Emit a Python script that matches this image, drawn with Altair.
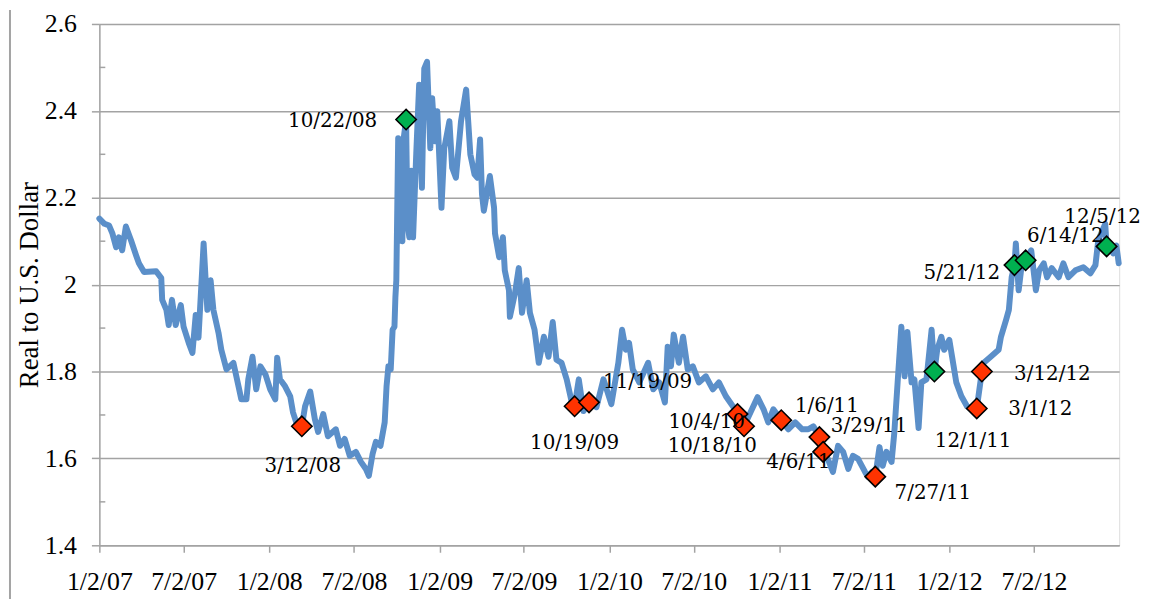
import altair as alt
import pandas as pd

# ---------------- data ----------------
line_dates = [
    "2007-01-02", "2007-01-13", "2007-01-23", "2007-01-30", "2007-02-07", "2007-02-13",
    "2007-02-20", "2007-02-28", "2007-03-11", "2007-03-22", "2007-03-28", "2007-04-08",
    "2007-05-04", "2007-05-15", "2007-05-17", "2007-05-26", "2007-05-31", "2007-06-07",
    "2007-06-15", "2007-06-26", "2007-07-02", "2007-07-13", "2007-07-21", "2007-07-28",
    "2007-08-03", "2007-08-14", "2007-08-18", "2007-08-22", "2007-08-29", "2007-09-04",
    "2007-09-15", "2007-09-21", "2007-10-02", "2007-10-17", "2007-10-28", "2007-11-03",
    "2007-11-14", "2007-11-18", "2007-11-27", "2007-12-05", "2007-12-14", "2007-12-25",
    "2008-01-04", "2008-01-15", "2008-01-19", "2008-01-25", "2008-02-05", "2008-02-16",
    "2008-02-22", "2008-02-29", "2008-03-12", "2008-03-19", "2008-03-30", "2008-04-09",
    "2008-04-16", "2008-04-27", "2008-05-07", "2008-05-24", "2008-06-02", "2008-06-12",
    "2008-06-23", "2008-07-06", "2008-07-17", "2008-07-28", "2008-08-03", "2008-08-11",
    "2008-08-18", "2008-08-28", "2008-09-06", "2008-09-10", "2008-09-14", "2008-09-19",
    "2008-09-23", "2008-09-27", "2008-09-29", "2008-10-01", "2008-10-05", "2008-10-09",
    "2008-10-14", "2008-10-16", "2008-10-22", "2008-10-25", "2008-10-29", "2008-11-02",
    "2008-11-06", "2008-11-13", "2008-11-19", "2008-11-25", "2008-11-30", "2008-12-06",
    "2008-12-13", "2008-12-17", "2008-12-23", "2008-12-28", "2009-01-06", "2009-01-12",
    "2009-01-23", "2009-01-29", "2009-02-06", "2009-02-17", "2009-02-28", "2009-03-09",
    "2009-03-18", "2009-03-24", "2009-03-30", "2009-04-03", "2009-04-07", "2009-04-20",
    "2009-04-29", "2009-05-01", "2009-05-10", "2009-05-18", "2009-05-22", "2009-05-31",
    "2009-06-02", "2009-06-13", "2009-06-21", "2009-06-28", "2009-07-08", "2009-07-15",
    "2009-07-25", "2009-08-03", "2009-08-14", "2009-08-24", "2009-09-02", "2009-09-10",
    "2009-09-21", "2009-10-02", "2009-10-13", "2009-10-19", "2009-10-28", "2009-11-07",
    "2009-11-19", "2009-12-05", "2009-12-20", "2010-01-06", "2010-01-21", "2010-01-29",
    "2010-02-06", "2010-02-13", "2010-02-21", "2010-03-07", "2010-03-26", "2010-04-06",
    "2010-04-19", "2010-05-01", "2010-05-07", "2010-05-14", "2010-05-20", "2010-05-31",
    "2010-06-09", "2010-06-19", "2010-06-30", "2010-07-13", "2010-07-28", "2010-08-12",
    "2010-08-25", "2010-09-09", "2010-09-24", "2010-10-04", "2010-10-11", "2010-10-18",
    "2010-11-01", "2010-11-16", "2010-11-29", "2010-12-09", "2010-12-20", "2011-01-06",
    "2011-01-21", "2011-02-05", "2011-02-20", "2011-03-05", "2011-03-16", "2011-03-29",
    "2011-04-06", "2011-04-16", "2011-04-27", "2011-05-08", "2011-05-19", "2011-05-30",
    "2011-06-09", "2011-06-20", "2011-07-05", "2011-07-11", "2011-07-20", "2011-07-27",
    "2011-08-05", "2011-08-12", "2011-08-20", "2011-08-31", "2011-09-06", "2011-09-13",
    "2011-09-21", "2011-09-28", "2011-10-04", "2011-10-13", "2011-10-19", "2011-10-28",
    "2011-11-03", "2011-11-14", "2011-11-25", "2011-12-01", "2011-12-07", "2011-12-16",
    "2011-12-22", "2012-01-02", "2012-01-08", "2012-01-17", "2012-01-28", "2012-02-09",
    "2012-02-20", "2012-03-01", "2012-03-12", "2012-03-16", "2012-03-31", "2012-04-17",
    "2012-04-22", "2012-05-03", "2012-05-09", "2012-05-15", "2012-05-21", "2012-05-24",
    "2012-05-30", "2012-06-06", "2012-06-14", "2012-06-26", "2012-07-06", "2012-07-13",
    "2012-07-23", "2012-07-30", "2012-08-09", "2012-08-24", "2012-09-03", "2012-09-14",
    "2012-09-29", "2012-10-16", "2012-10-31", "2012-11-11", "2012-11-17", "2012-12-02",
    "2012-12-05", "2012-12-13", "2012-12-19", "2012-12-26", "2012-12-31",
]
line_values = [
    2.152, 2.140, 2.136, 2.118, 2.086, 2.109,
    2.079, 2.134, 2.102, 2.067, 2.049, 2.029,
    2.031, 2.015, 1.965, 1.942, 1.907, 1.965,
    1.907, 1.953, 1.903, 1.866, 1.843, 1.930,
    1.878, 2.095, 2.017, 1.942, 2.010, 1.942,
    1.889, 1.850, 1.805, 1.820, 1.766, 1.736,
    1.736, 1.782, 1.834, 1.759, 1.812, 1.793,
    1.759, 1.736, 1.832, 1.782, 1.766, 1.743,
    1.706, 1.683, 1.674, 1.720, 1.754, 1.690,
    1.661, 1.702, 1.651, 1.667, 1.629, 1.645,
    1.606, 1.615, 1.592, 1.575, 1.560, 1.610,
    1.638, 1.629, 1.683, 1.766, 1.812, 1.805,
    1.896, 1.903, 1.971, 2.010, 2.337, 2.102,
    2.100, 2.330, 2.380, 2.140, 2.109, 2.262,
    2.109, 2.307, 2.460, 2.223, 2.497, 2.513,
    2.314, 2.429, 2.330, 2.399, 2.177, 2.314,
    2.376, 2.269, 2.246, 2.376, 2.449, 2.300,
    2.254, 2.246, 2.334, 2.209, 2.170, 2.250,
    2.177, 2.118, 2.063, 2.109, 2.033, 1.987,
    1.926, 1.981, 2.038, 1.935, 2.010, 1.935,
    1.896, 1.820, 1.880, 1.834, 1.914, 1.827,
    1.820, 1.782, 1.729, 1.720, 1.782, 1.709,
    1.729, 1.718, 1.782, 1.725, 1.820, 1.896,
    1.850, 1.866, 1.805, 1.775, 1.820, 1.759,
    1.775, 1.729, 1.857, 1.812, 1.885, 1.820,
    1.880, 1.805, 1.812, 1.775, 1.789, 1.759,
    1.775, 1.743, 1.720, 1.702, 1.690, 1.674,
    1.706, 1.741, 1.713, 1.683, 1.713, 1.688,
    1.667, 1.683, 1.667, 1.667, 1.674, 1.649,
    1.615, 1.599, 1.569, 1.629, 1.615, 1.576,
    1.606, 1.599, 1.569, 1.558, 1.569, 1.558,
    1.626, 1.583, 1.615, 1.592, 1.661, 1.775,
    1.903, 1.789, 1.891, 1.775, 1.782, 1.670,
    1.775, 1.782, 1.896, 1.800, 1.850, 1.880,
    1.850, 1.873, 1.834, 1.775, 1.743, 1.720,
    1.713, 1.715, 1.800, 1.820, 1.834, 1.850,
    1.880, 1.919, 1.942, 2.017, 2.045, 2.095,
    1.987, 2.049, 2.056, 2.079, 1.987, 2.033,
    2.049, 2.017, 2.038, 2.017, 2.049, 2.017,
    2.033, 2.040, 2.026, 2.045, 2.102, 2.140,
    2.088, 2.090, 2.072, 2.090, 2.049,
]

marker_dates = [
    "2008-03-12", "2008-10-22", "2009-10-19", "2009-11-19", "2010-10-04", "2010-10-18",
    "2011-01-06", "2011-03-29", "2011-04-06", "2011-07-27", "2011-12-01", "2012-03-01",
    "2012-03-12", "2012-05-21", "2012-06-14", "2012-12-05",
]
marker_values = [
    1.674, 2.380, 1.720, 1.729, 1.702, 1.674,
    1.688, 1.649, 1.615, 1.558, 1.800, 1.715,
    1.800, 2.045, 2.056, 2.088,
]
marker_labels = [
    "3/12/08", "10/22/08", "10/19/09", "11/19/09", "10/4/10", "10/18/10",
    "1/6/11", "3/29/11", "4/6/11", "7/27/11", "12/1/11", "3/1/12",
    "3/12/12", "5/21/12", "6/14/12", "12/5/12",
]
marker_kind = [
    "red", "green", "red", "red", "red", "red",
    "red", "red", "red", "red", "green", "red",
    "red", "green", "green", "green",
]

x_tick_dates = [(2007, 1), (2007, 7), (2008, 1), (2008, 7), (2009, 1), (2009, 7),
                (2010, 1), (2010, 7), (2011, 1), (2011, 7), (2012, 1), (2012, 7)]
y_ticks = [1.4, 1.6, 1.8, 2.0, 2.2, 2.4, 2.6]
y_minor = [1.5, 1.7, 1.9, 2.1, 2.3, 2.5]

# label placement (pixel offsets from the diamond)
label_offsets = {
    "3/12/08": (1, 40), "10/22/08": (-74, 2), "10/19/09": (0, 37), "11/19/09": (59, -20),
    "10/4/10": (-31, 8), "10/18/10": (-32, 20), "1/6/11": (46, -14), "3/29/11": (50, -11),
    "4/6/11": (-25, 10), "7/27/11": (58, 17), "12/1/11": (39, 70), "3/1/12": (64, 1),
    "3/12/12": (71, 3), "5/21/12": (-53, 8), "6/14/12": (40, -24), "12/5/12": (-4, -30),
}

# ---------------- chart ----------------
W, H = 1027, 525
GRAY = "#A3A3A3"
AXFONT = "Liberation Serif"
LBLFONT = "DejaVu Serif"

line_df = pd.DataFrame({"date": line_dates, "value": line_values})
mk_df = pd.DataFrame({"date": marker_dates, "value": marker_values,
                      "label": marker_labels, "kind": marker_kind})
minor_df = pd.DataFrame({"v": y_minor})

x_scale = alt.Scale(type="utc", domain=[
    alt.DateTime(year=2007, month=1, date=2, utc=True),
    alt.DateTime(year=2013, month=1, date=1, utc=True)])
y_scale = alt.Scale(domain=[1.4, 2.6], nice=False, zero=False)

x_axis = alt.Axis(
    values=[alt.DateTime(year=y, month=m, date=2, utc=True) for y, m in x_tick_dates],
    labelExpr="utcFormat(datum.value, '%-m/%-d/%y')",
    grid=False, title=None, labelFlush=False, labelOverlap=False,
    domainColor=GRAY, domainWidth=1.5, tickColor=GRAY, tickWidth=1.5, tickSize=7,
    labelFont=AXFONT, labelFontSize=26, labelColor="black", labelPadding=17,
)
y_axis = alt.Axis(
    values=y_ticks, format="~g", grid=True, gridColor=GRAY, gridWidth=1.5,
    domainColor=GRAY, domainWidth=1.5, tickColor=GRAY, tickWidth=1.5, tickSize=8,
    labelFont=AXFONT, labelFontSize=26, labelColor="black", labelPadding=15,
    labelOverlap=False,
    title="Real to U.S. Dollar", titleFont=AXFONT, titleFontSize=27,
    titleFontWeight="normal", titleColor="black", titleX=-70, titleY=H / 2,
    titleAngle=270, titleAlign="center", titleBaseline="middle",
)

line = alt.Chart(line_df).mark_line(
    color="#5B8FC9", strokeWidth=6, strokeJoin="round", strokeCap="round"
).encode(
    x=alt.X("date:T", scale=x_scale, axis=x_axis),
    y=alt.Y("value:Q", scale=y_scale, axis=y_axis),
)

minor = alt.Chart(minor_df).mark_rule(color=GRAY, strokeWidth=1.5).encode(
    y=alt.Y("v:Q", scale=y_scale), x=alt.value(0), x2=alt.value(6)
)

border = alt.Chart(pd.DataFrame({"a": [0]})).mark_rule(color=GRAY, strokeWidth=2).encode(
    x=alt.value(-90), y=alt.value(-14), y2=alt.value(H + 60)
)

markers = alt.Chart(mk_df).mark_point(
    shape="diamond", filled=True, size=420, stroke="black", strokeWidth=1.6, opacity=1
).encode(
    x=alt.X("date:T", scale=x_scale),
    y=alt.Y("value:Q", scale=y_scale),
    fill=alt.Fill("kind:N", scale=alt.Scale(domain=["red", "green"],
                                            range=["#FF3300", "#00B050"]), legend=None),
)

labels = []
for lab in marker_labels:
    dx, dy = label_offsets[lab]
    labels.append(
        alt.Chart(mk_df[mk_df["label"] == lab]).mark_text(
            font=LBLFONT, fontSize=20, color="black", align="center",
            baseline="middle", dx=dx, dy=dy
        ).encode(
            x=alt.X("date:T", scale=x_scale),
            y=alt.Y("value:Q", scale=y_scale),
            text="label:N",
        )
    )

chart = alt.layer(minor, line, markers, *labels, border).properties(
    width=W, height=H,
    autosize=alt.AutoSizeParams(type="none"),
    padding={"left": 92, "top": 14, "right": 27, "bottom": 52},
).configure_view(stroke=None).configure(background="white")

chart.save("out.html", embed_options={"renderer": "svg", "actions": False})
